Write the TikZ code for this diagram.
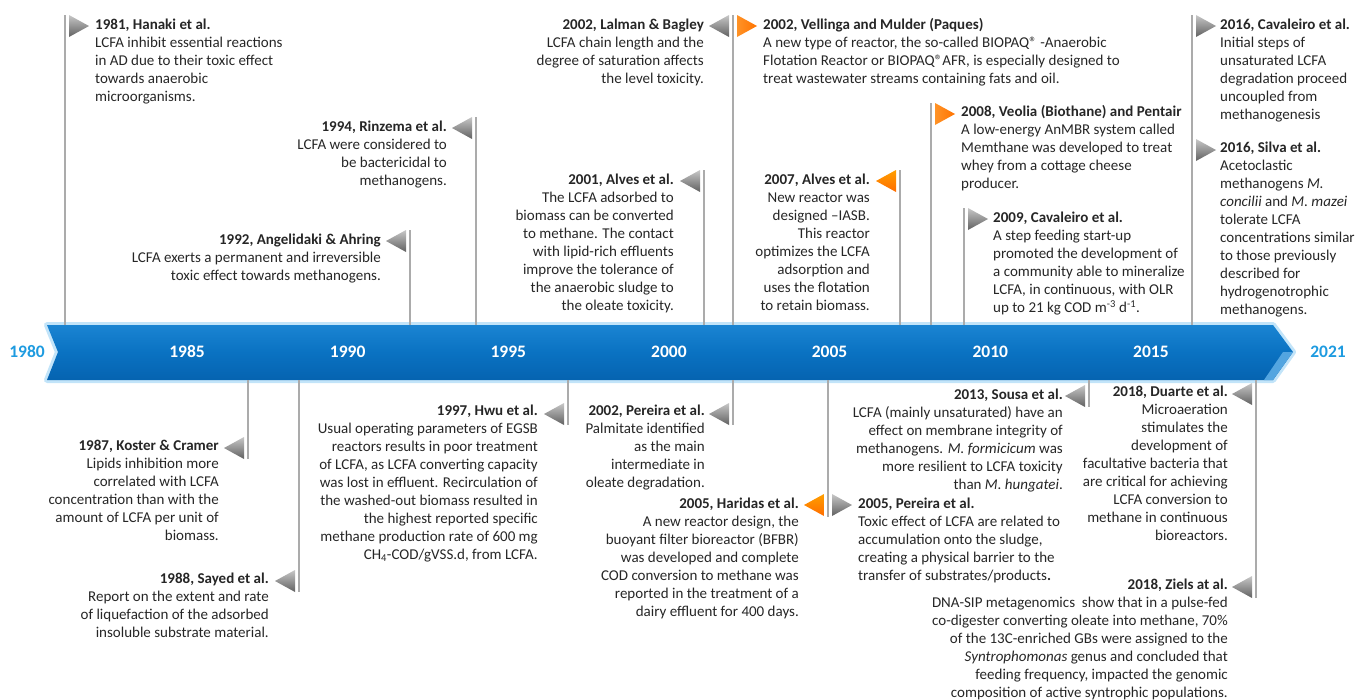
\documentclass[tikz,border=0pt]{standalone}
\usepackage{fontspec}
\setmainfont{Carlito}
\definecolor{barblue}{HTML}{0A72C2}
\definecolor{bartop}{HTML}{1A84D2}
\definecolor{barbot}{HTML}{0563B0}
\definecolor{barglow}{HTML}{A8D8F6}
\definecolor{yearblue}{HTML}{1E9BE0}
\definecolor{polegray}{HTML}{ABABAB}
\definecolor{txtgray}{HTML}{262626}
\newcommand\entryfont{\fontsize{15}{18}\selectfont\color{txtgray}}
\newcommand\regmark{®}

\tikzset{
  pole/.style={draw=polegray, line width=2.6pt},
  txtR/.style={anchor=north west, align=left, inner sep=0pt, font=\entryfont},
  txtL/.style={anchor=north east, align=right, inner sep=0pt, font=\entryfont},
  yearlbl/.style={font=\fontsize{17.5}{20}\selectfont\bfseries, text=white},
  endlbl/.style={font=\fontsize{17.5}{20}\selectfont\bfseries, text=yearblue},
  flagR/.pic={
    \shade[top color=black!22, bottom color=black!62] (4,0) -- (4,22) -- (24,11) -- cycle;
  },
  flagL/.pic={
    \shade[top color=black!22, bottom color=black!62] (-4,0) -- (-4,22) -- (-24,11) -- cycle;
  },
  oflagR/.pic={
    \shade[left color=orange!85!white, right color=orange!90!red] (4,0) -- (4,22) -- (24,11) -- cycle;
  },
  oflagL/.pic={
    \shade[top color=orange!75!yellow, bottom color=orange!85!red] (-4,0) -- (-4,22) -- (-24,11) -- cycle;
  }
}

\begin{document}
\begin{tikzpicture}[x=1pt, y=-1pt]
  \useasboundingbox (0,0) rectangle (1357,699);

  % time bar
  \draw[barglow, line width=6pt, line join=round, opacity=0.7]
    (47,325) -- (1273,325) -- (1293,352) -- (1273,380) -- (47,380) -- (58,352) -- cycle;
  \shade[top color=bartop, bottom color=barbot, middle color=barblue]
    (47,325) -- (1273,325) -- (1293,352) -- (1273,380) -- (47,380) -- (58,352) -- cycle;
  \fill[barglow!40!bartop] (1293,352) -- (1273,380) -- (1264,380) -- (1283,352) -- cycle;
  \coordinate (barN) at (0,325);
  \coordinate (barS) at (0,380);

  \foreach \yr in {1985,1990,...,2015}
    \node[yearlbl] (y\yr) at ({187+(\yr-1985)*32.13},352) {\yr};
  \node[endlbl] (y1980) at (27,352) {1980};
  \node[endlbl] (y2021) at (1328,352) {2021};

  % poles above the bar
  \coordinate (p1981) at (65,15);
  \coordinate (p1992) at (410,230);
  \coordinate (p1994) at (476,117);
  \coordinate (p2001) at (704,170);
  \coordinate (p2002) at (733,15);
  \coordinate (p2007) at (900,170);
  \coordinate (p2008) at (931,103);
  \coordinate (p2009) at (964,208);
  \coordinate (p2016) at (1192,15);
  \foreach \p in {p1981,p1992,p1994,p2001,p2002,p2007,p2008,p2009,p2016}
    \draw[pole] (\p) -- (\p |- barN);

  % poles below the bar
  \coordinate (q1987) at (248,459);
  \coordinate (q1988) at (299,592);
  \coordinate (q1997) at (568,425);
  \coordinate (q2002) at (733,425);
  \coordinate (q2005) at (828,517);
  \coordinate (q2013) at (1089,407);
  \coordinate (q2018) at (1256,598);
  \foreach \q in {q1987,q1988,q1997,q2002,q2005,q2013,q2018}
    \draw[pole] (\q |- barS) -- (\q);

  % flags
  \pic at (p1981) {flagR};
  \pic at (p1992) {flagL};
  \pic at (p1994) {flagL};
  \pic at (p2001) {flagL};
  \pic at (p2002) {flagL};
  \pic at (p2002) {oflagR};
  \pic at (p2007) {oflagL};
  \pic at (p2008) {oflagR};
  \pic at (p2009) {flagR};
  \pic at (p2016) {flagR};
  \pic at (1192,139) {flagR};
  \pic at (248,437) {flagL};
  \pic at (299,570) {flagL};
  \pic at (568,403) {flagL};
  \pic at (733,403) {flagL};
  \pic at (828,494) {oflagL};
  \pic at (828,494) {flagR};
  \pic at (1089,385) {flagL};
  \pic at (1256,383) {flagL};
  \pic at (1256,576) {flagL};

  % entries above
  \node[txtR] (t1981) at (95,17) {\strut\textbf{1981, Hanaki et al.}\\
    LCFA inhibit essential reactions\\ in AD due to their toxic effect\\
    towards anaerobic\\ microorganisms.};
  \node[txtL] (t1994) at (447,119) {\strut\textbf{1994, Rinzema et al.}\\
    LCFA were considered to\\ be bactericidal to\\ methanogens.};
  \node[txtL] (t1992) at (381,232) {\strut\textbf{1992, Angelidaki \& Ahring}\\
    LCFA exerts a permanent and irreversible\\ toxic effect towards methanogens.};
  \node[txtL] (t2002a) at (704,17) {\strut\textbf{2002, Lalman \& Bagley}\\
    LCFA chain length and the\\ degree of saturation affects\\ the level toxicity.};
  \node[txtR] (t2002b) at (763,17) {\strut\textbf{2002, Vellinga and Mulder (Paques)}\\
    A new type of reactor, the so-called BIOPAQ\regmark{} -Anaerobic\\
    Flotation Reactor or BIOPAQ\regmark AFR, is especially designed to\\
    treat wastewater streams containing fats and oil.};
  \node[txtL] (t2001) at (674,172) {\strut\textbf{2001, Alves et al.}\\
    The LCFA adsorbed to\\ biomass can be converted\\ to methane. The contact\\
    with lipid-rich effluents\\ improve the tolerance of\\ the anaerobic sludge to\\
    the oleate toxicity.};
  \node[txtL] (t2007) at (870,172) {\strut\textbf{2007, Alves et al.}\\
    New reactor was\\ designed --IASB.\\ This reactor\\ optimizes the LCFA\\
    adsorption and\\ uses the flotation\\ to retain biomass.};
  \node[txtR] (t2008) at (961,104) {\strut\textbf{2008, Veolia (Biothane) and Pentair}\\
    A low-energy AnMBR system called\\ Memthane was developed to treat\\
    whey from a cottage cheese\\ producer.};
  \node[txtR] (t2009) at (993,210) {\strut\textbf{2009, Cavaleiro et al.}\\
    A step feeding start-up\\ promoted the development of\\
    a community able to mineralize\\ LCFA, in continuous, with OLR\\
    up to 21 kg COD m\textsuperscript{-3} d\textsuperscript{-1}.};
  \node[txtR] (t2016a) at (1220,17) {\strut\textbf{2016, Cavaleiro et al.}\\
    Initial steps of\\ unsaturated LCFA\\ degradation proceed\\ uncoupled from\\
    methanogenesis};
  \node[txtR] (t2016b) at (1220,140) {\strut\textbf{2016, Silva et al.}\\
    Acetoclastic\\ methanogens \textit{M.}\\ \textit{concilii} and \textit{M. mazei}\\
    tolerate LCFA\\ concentrations similar\\ to those previously\\ described for\\
    hydrogenotrophic\\ methanogens.};

  % entries below
  \node[txtL] (t1987) at (219,438) {\strut\textbf{1987, Koster \& Cramer}\\
    Lipids inhibition more\\ correlated with LCFA\\ concentration than with the\\
    amount of LCFA per unit of\\ biomass.};
  \node[txtL] (t1988) at (269,571) {\strut\textbf{1988, Sayed et al.}\\
    Report on the extent and rate\\ of liquefaction of the adsorbed\\
    insoluble substrate material.};
  \node[txtL] (t1997) at (538,403) {\strut\textbf{1997, Hwu et al.}\\
    Usual operating parameters of EGSB\\ reactors results in poor treatment\\
    of LCFA, as LCFA converting capacity\\ was lost in effluent. Recirculation of\\
    the washed-out biomass resulted in\\ the highest reported specific\\
    methane production rate of 600 mg\\ CH\textsubscript{4}-COD/gVSS.d, from LCFA.};
  \node[txtL] (t2002c) at (705,403) {\strut\textbf{2002, Pereira et al.}\\
    Palmitate identified\\ as the main\\ intermediate in\\ oleate degradation.};
  \node[txtL] (t2005a) at (799,496) {\strut\textbf{2005, Haridas et al.}\\
    A new reactor design, the\\ buoyant filter bioreactor (BFBR)\\
    was developed and complete\\ COD conversion to methane was\\
    reported in the treatment of a\\ dairy effluent for 400 days.};
  \node[txtR] (t2005b) at (858,496) {\strut\textbf{2005, Pereira et al.}\\
    Toxic effect of LCFA are related to\\ accumulation onto the sludge,\\
    creating a physical barrier to the\\ transfer of substrates/products\textbf{.}};
  \node[txtL] (t2013) at (1063,387) {\strut\textbf{2013, Sousa et al.}\\
    LCFA (mainly unsaturated) have an\\ effect on membrane integrity of\\
    methanogens. \textit{M. formicicum} was\\ more resilient to LCFA toxicity\\
    than \textit{M. hungatei}.};
  \node[txtL] (t2018a) at (1228,384) {\strut\textbf{2018, Duarte et al.}\\
    Microaeration\\ stimulates the\\ development of\\ facultative bacteria that\\
    are critical for achieving\\ LCFA conversion to\\ methane in continuous\\ bioreactors.};
  \node[txtL] (t2018b) at (1228,577) {\strut\textbf{2018, Ziels at al.}\\
    DNA-SIP metagenomics\ \ show that in a pulse-fed\\
    co-digester converting oleate into methane, 70\%\\
    of the 13C-enriched GBs were assigned to the\\
    \textit{Syntrophomonas} genus and concluded that\\
    feeding frequency, impacted the genomic\\
    composition of active syntrophic populations.};
\end{tikzpicture}
\end{document}
